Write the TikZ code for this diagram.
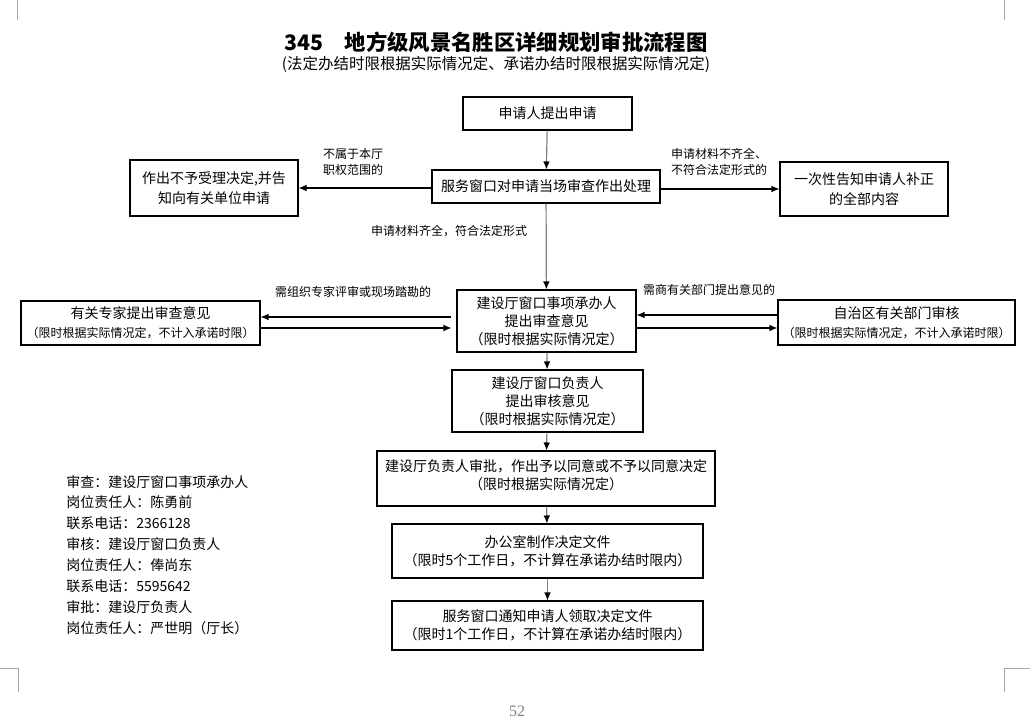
\documentclass[tikz,border=0pt]{standalone}
\usepackage{fontspec}
\setmainfont{Noto Sans CJK SC}
\newfontfamily\pagefont{Liberation Serif}
\usepackage{tikz}
\usetikzlibrary{arrows.meta,positioning}

\begin{document}
\begin{tikzpicture}[x=0.75pt,y=-0.75pt,
  box/.style={draw,line width=0.8pt,align=center,inner sep=0pt,font=\fontsize{10.5}{13.5}\selectfont},
  note/.style={align=left,inner sep=0pt,font=\fontsize{9}{11.5}\selectfont},
  flow/.style={draw=gray,line width=0.9pt,-{Latex[black,length=6pt,width=5pt]}},
  side/.style={draw=black,line width=0.8pt,-{Latex[length=6pt,width=5pt]}},
  cropline/.style={draw=gray!70,line width=0.6pt}]
\useasboundingbox (0,0) rectangle (1030,727);
\fill[white] (0,0) rectangle (1030,727);

% title
\node[inner sep=0pt,font=\fontsize{16}{20}\selectfont\bfseries] (title) at (496,42) {345\quad 地方级风景名胜区详细规划审批流程图};
\node[inner sep=0pt,font=\fontsize{11.6}{13}\selectfont] (subtitle) at (496,64) {(法定办结时限根据实际情况定、承诺办结时限根据实际情况定)};

% boxes
\node[box,minimum width=126.75pt,minimum height=24.75pt] (apply) at (547.5,113.5) {申请人提出申请};
\node[box,minimum width=171pt,minimum height=24.75pt] (check) at (546,186.5) {服务窗口对申请当场审查作出处理};
\node[box,minimum width=126pt,minimum height=42pt,font=\fontsize{10.5}{15}\selectfont] (reject) at (214,188) {作出不予受理决定,并告\\知向有关单位申请};
\node[box,minimum width=126pt,minimum height=40.5pt,font=\fontsize{10.5}{15}\selectfont] (supp) at (864,189) {一次性告知申请人补正\\的全部内容};
\node[box,minimum width=134.25pt,minimum height=46.5pt] (handler) at (546.5,321) {建设厅窗口事项承办人\\提出审查意见\\（限时根据实际情况定）};
\node[box,minimum width=179.25pt,minimum height=33pt] (expert) at (140.5,323) {有关专家提出审查意见\\[1pt]{\fontsize{9}{11}\selectfont（限时根据实际情况定，不计入承诺时限）}};
\node[box,minimum width=177.75pt,minimum height=33.75pt] (region) at (896.5,322.5) {自治区有关部门审核\\[1pt]{\fontsize{9}{11}\selectfont（限时根据实际情况定，不计入承诺时限）}};
\node[box,minimum width=143.25pt,minimum height=46.5pt] (chief) at (547.5,401) {建设厅窗口负责人\\提出审核意见\\（限时根据实际情况定）};
\node[box,minimum width=253.5pt,minimum height=41.25pt] (head) at (546,478.5) {建设厅负责人审批，作出予以同意或不予以同意决定\\（限时根据实际情况定）\\[-8pt] ~};
\node[box,minimum width=233.25pt,minimum height=40.5pt] (office) at (547.5,551) {办公室制作决定文件\\（限时5个工作日，不计算在承诺办结时限内）};
\node[box,minimum width=233.25pt,minimum height=36.75pt] (notify) at (547.5,625.5) {服务窗口通知申请人领取决定文件\\（限时1个工作日，不计算在承诺办结时限内）};

% labels
\node[note] (lbl1) at (353,162) {不属于本厅\\职权范围的};
\node[note] (lbl2) at (719,162) {申请材料不齐全、\\不符合法定形式的};
\node[note] (lbl3) at (449,231) {申请材料齐全，符合法定形式};
\node[note] (lbl4) at (353,292) {需组织专家评审或现场踏勘的};
\node[note] (lbl5) at (709,290) {需商有关部门提出意见的};

% contacts
\node[align=left,inner sep=0pt,anchor=north west,font=\fontsize{10.5}{15.65}\selectfont] (contacts) at (66,475)
  {审查：建设厅窗口事项承办人\\岗位责任人：陈勇前\\联系电话：2366128\\审核：建设厅窗口负责人\\岗位责任人：俸尚东\\联系电话：5595642\\审批：建设厅负责人\\岗位责任人：严世明（厅长）};

% connectors
\coordinate (hwU) at ([shift={(-5,-4)}]handler.west);
\coordinate (hwL) at ([shift={(-5,7)}]handler.west);
\coordinate (heU) at ([shift={(0,-6)}]handler.east);
\coordinate (heL) at ([shift={(0,7)}]handler.east);
\draw[flow] (apply) -- (check);
\draw[side] (check.west |- reject.east) -- (reject.east);
\draw[side] (check.east |- supp.west) -- (supp.west);
\draw[flow] (check) -- (handler);
\draw[side] (hwU) -- (hwU -| expert.east);
\draw[side] (hwL -| expert.east) -- (hwL);
\draw[side] (heU -| region.west) -- (heU);
\draw[side] (heL) -- (heL -| region.west);
\draw[flow] (handler) -- (chief);
\draw[flow] (chief) -- (head);
\draw[flow] (head) -- (office);
\draw[flow] (office) -- (notify);

% page number and crop marks
\node[inner sep=0pt,text=gray,font=\pagefont\fontsize{12}{14}\selectfont] (page) at (517,711) {52};
\draw[cropline] (17,0) -- (17,20);
\draw[cropline] (1004,0) -- (1004,20);
\draw[cropline] (0,668) -- (18,668) -- (18,692);
\draw[cropline] (1030,668) -- (1004,668) -- (1004,692);
\end{tikzpicture}
\end{document}
